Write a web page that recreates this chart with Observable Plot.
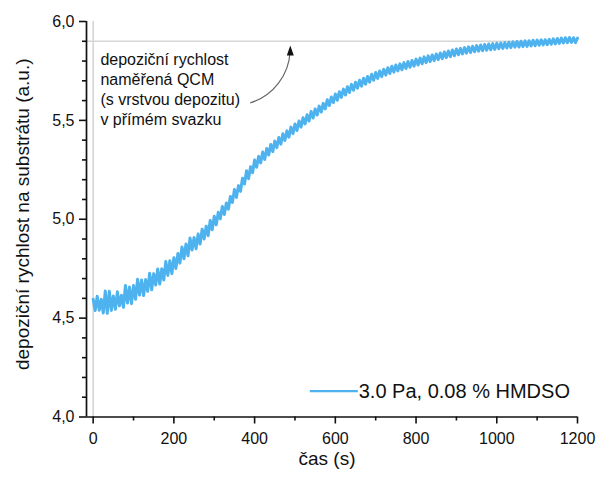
<!DOCTYPE html>
<html>
<head>
<meta charset="utf-8">
<script src="https://cdn.jsdelivr.net/npm/d3@7"></script>
<script src="https://cdn.jsdelivr.net/npm/@observablehq/plot@0.6"></script>
<style>
  html, body { margin: 0; padding: 0; background: #fff; }
  #chart svg { display: block; }
</style>
</head>
<body>
<div id="chart"></div>
<script>
// ---- data ----
const sampleStep = 5; // s between samples
const rate = [
  4.595,4.538,4.611,4.540,4.595,4.526,4.637,4.524,4.636,4.539,4.612,4.545,4.633,4.562,4.616,4.555,4.665,4.576,4.657,4.573,4.665,
  4.595,4.696,4.617,4.693,4.614,4.695,4.636,4.727,4.643,4.725,4.667,4.749,4.672,4.750,4.693,4.787,4.716,4.790,4.725,4.805,
  4.751,4.827,4.778,4.860,4.800,4.875,4.815,4.905,4.844,4.908,4.851,4.925,4.875,4.950,4.900,4.965,4.917,4.994,4.947,5.015,
  4.972,5.035,5.002,5.065,5.024,5.082,5.051,5.115,5.085,5.150,5.110,5.170,5.141,5.207,5.178,5.245,5.205,5.265,5.235,5.300,
  5.263,5.318,5.285,5.340,5.302,5.358,5.325,5.378,5.342,5.395,5.362,5.413,5.380,5.432,5.398,5.447,5.415,5.466,5.433,5.482,
  5.449,5.497,5.466,5.513,5.482,5.528,5.497,5.545,5.512,5.558,5.527,5.572,5.542,5.586,5.558,5.604,5.575,5.618,5.590,5.633,
  5.602,5.645,5.616,5.658,5.628,5.670,5.641,5.682,5.652,5.693,5.663,5.703,5.673,5.713,5.683,5.722,5.693,5.733,5.703,5.742,
  5.712,5.750,5.721,5.758,5.729,5.766,5.737,5.774,5.744,5.780,5.750,5.786,5.756,5.792,5.762,5.798,5.768,5.803,5.774,5.810,
  5.780,5.815,5.786,5.821,5.792,5.826,5.797,5.831,5.802,5.836,5.807,5.841,5.812,5.846,5.817,5.851,5.822,5.856,5.827,5.861,
  5.832,5.864,5.836,5.868,5.840,5.872,5.843,5.875,5.847,5.878,5.850,5.881,5.852,5.884,5.855,5.886,5.857,5.888,5.859,5.890,
  5.862,5.891,5.864,5.893,5.866,5.895,5.868,5.897,5.870,5.899,5.871,5.900,5.873,5.902,5.874,5.903,5.876,5.905,5.877,5.906,
  5.880,5.907,5.882,5.908,5.883,5.910,5.885,5.912,5.887,5.914,5.889,5.916,5.891,5.918,5.893,5.919,5.894,5.918,5.893,5.916
];
const seriesLabel = "3.0 Pa, 0.08 % HMDSO";
const xLabel = "čas (s)";
const yLabel = "depoziční rychlost na substrátu (a.u.)";
const xDomain = [-16.5, 1200];
const yDomain = [4, 6];
const xMajorTicks = [0, 200, 400, 600, 800, 1000, 1200];
const xMinorTicks = [100, 300, 500, 700, 900, 1100];
const yMajorTicks = [4, 4.5, 5, 5.5, 6];
const yMinorTicks = [4.1, 4.2, 4.3, 4.4, 4.6, 4.7, 4.8, 4.9, 5.1, 5.2, 5.3, 5.4, 5.6, 5.7, 5.8, 5.9];
const refTime = [0];
const refRate = [5.9];
const noteLines = ["depoziční rychlost", "naměřená QCM", "(s vrstvou depozitu)", "v přímém svazku"];
const noteAnchor = [{x: 18, y: 5.663}];
const arrowArc = [{x1: 390, y1: 5.589, x2: 488, y2: 5.851}];
const arrowHead = [{x: 488.4, y: 5.828}];
const legendSwatch = [{x1: 538, x2: 657, y: 4.131}];
const legendText = [{x: 658, y: 4.131, label: seriesLabel}];

// ---- layout ----
const W = 596, H = 477, mL = 86, mR = 19, mT = 21, mB = 60.5;
// data units per pixel, used to give the tick marks a fixed pixel length
const xPerPx = (xDomain[1] - xDomain[0]) / (W - mL - mR);
const yPerPx = (yDomain[1] - yDomain[0]) / (H - mT - mB);
const majorLen = 7, minorLen = 4;

// ---- table for the line ----
const series = rate.map((v, i) => ({t: i * sampleStep, v}));

const fmtComma = d => d.toFixed(1).replace(".", ",");
const ink = "#111";
const blue = "#4db2ee";

const chart = Plot.plot({
  width: W,
  height: H,
  marginLeft: mL,
  marginRight: mR,
  marginTop: mT,
  marginBottom: mB,
  style: {fontFamily: "'Liberation Sans', Arial, sans-serif", fontSize: "16px", color: ink, background: "#fff"},
  x: {domain: xDomain, axis: null},
  y: {domain: yDomain, axis: null},
  marks: [
    Plot.ruleX(refTime, {stroke: "#d6d6d6", strokeWidth: 1.6}),
    Plot.ruleY(refRate, {stroke: "#d6d6d6", strokeWidth: 1.6}),
    Plot.line(series, {x: "t", y: "v", stroke: blue, strokeWidth: 3, strokeLinejoin: "round"}),
    // ticks
    Plot.ruleX(xMajorTicks, {x: d => d, y1: () => yDomain[0], y2: () => yDomain[0] - majorLen * yPerPx, stroke: ink, strokeWidth: 1.6}),
    Plot.ruleX(xMinorTicks, {x: d => d, y1: () => yDomain[0], y2: () => yDomain[0] - minorLen * yPerPx, stroke: ink, strokeWidth: 1.6}),
    Plot.ruleY(yMajorTicks, {y: d => d, x1: () => xDomain[0], x2: () => xDomain[0] - majorLen * xPerPx, stroke: ink, strokeWidth: 1.6}),
    Plot.ruleY(yMinorTicks, {y: d => d, x1: () => xDomain[0], x2: () => xDomain[0] - minorLen * xPerPx, stroke: ink, strokeWidth: 1.6}),
    // axis lines
    Plot.ruleX([xDomain[0]], {stroke: ink, strokeWidth: 1.7}),
    Plot.ruleY([yDomain[0]], {stroke: ink, strokeWidth: 1.7}),
    // tick labels
    Plot.text(xMajorTicks, {x: d => d, y: () => yDomain[0], text: d => String(d), dy: 21.5, lineAnchor: "middle", textAnchor: "middle", fontSize: 16, fill: ink}),
    Plot.text(yMajorTicks, {x: () => xDomain[0], y: d => d, text: fmtComma, dx: -12, textAnchor: "end", lineAnchor: "middle", fontSize: 16, fill: ink}),
    // axis titles
    Plot.text([yLabel], {frameAnchor: "left", textAnchor: "middle", lineAnchor: "middle", rotate: -90, dx: -64, dy: -5, fontSize: 19, fill: ink}),
    Plot.text([xLabel], {frameAnchor: "bottom", textAnchor: "middle", lineAnchor: "middle", dx: -5, dy: 41.5, fontSize: 19, fill: ink}),
    // annotation
    Plot.text(noteAnchor, {x: "x", y: "y", text: () => noteLines.join("\n"), textAnchor: "start", lineAnchor: "middle", lineHeight: 1.25, fontSize: 16, fill: ink}),
    Plot.arrow(arrowArc, {x1: "x1", y1: "y1", x2: "x2", y2: "y2", bend: -35, headLength: 0, stroke: "#666", strokeWidth: 1.2}),
    Plot.vector(arrowHead, {x: "x", y: "y", shape: "spike", length: 10, r: 3.5, rotate: 0, anchor: "start", fill: "#111", stroke: "none"}),
    // legend
    Plot.ruleY(legendSwatch, {x1: "x1", x2: "x2", y: "y", stroke: blue, strokeWidth: 2.3}),
    Plot.text(legendText, {x: "x", y: "y", text: "label", textAnchor: "start", lineAnchor: "middle", fontSize: 20, fill: ink})
  ]
});
document.getElementById("chart").appendChild(chart);
</script>
</body>
</html>
